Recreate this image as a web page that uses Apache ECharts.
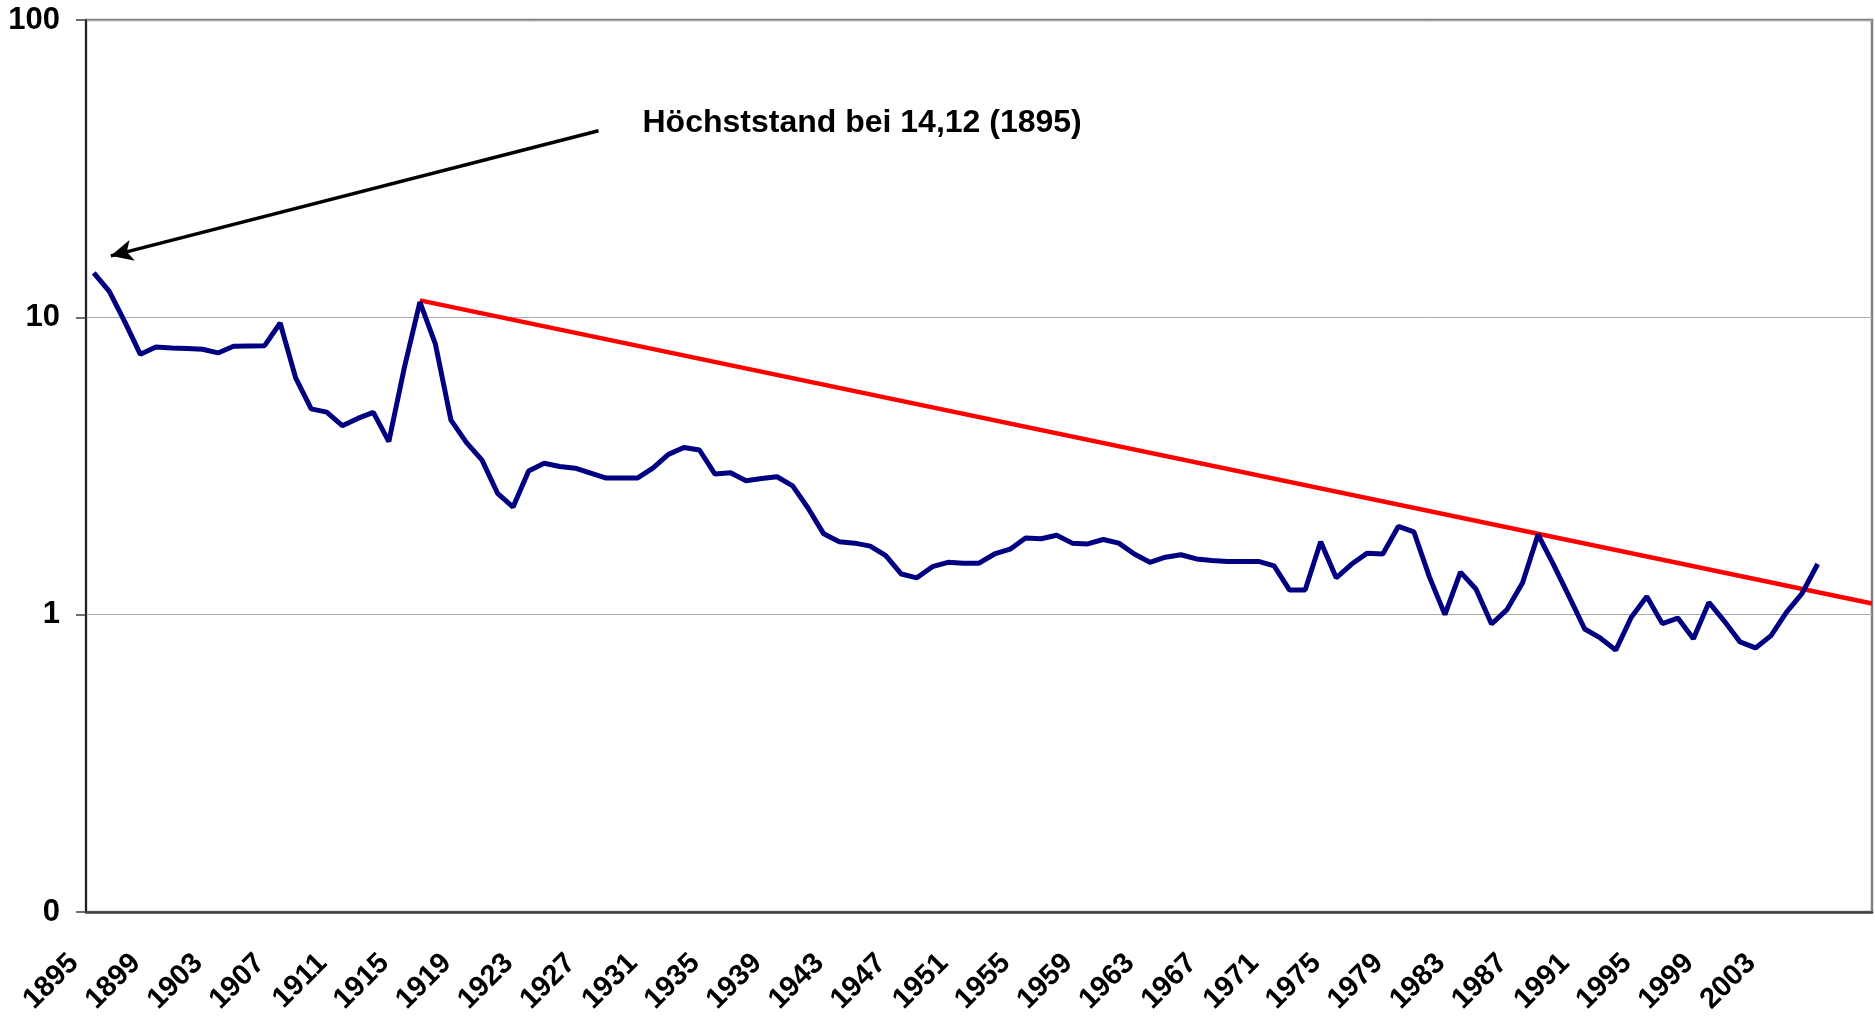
<!DOCTYPE html>
<html lang="de">

<head>
  <meta charset="UTF-8">
  <title>Kursverlauf 1895-2006</title>
  <style type="text/css">
    html, body {
      margin: 0;
      padding: 0;
      background: #fff;
    }
    #chart {
      width: 1875px;
      height: 1018px;
    }
  </style>
</head>

<body>
  <div id="chart"></div>
  <script src="https://cdn.jsdelivr.net/npm/echarts@6/dist/echarts.min.js"></script>
  <script type="text/javascript">

    // Jahre der Kategorieachse (1895 - 2009)
    var years = []
    for (var y = 1895; y <= 2009; y++) years.push(String(y))

    // Jahreswerte 1895 - 2006
    var kurs = [
      14.12, 12.22, 9.65, 7.51, 7.95, 7.89, 7.85, 7.81, 7.59, 7.99,
      8.01, 8.03, 9.57, 6.26, 4.92, 4.80, 4.32, 4.57, 4.79, 3.82,
      6.78, 11.26, 8.12, 4.51, 3.79, 3.31, 2.56, 2.30, 3.04, 3.23,
      3.15, 3.11, 2.99, 2.88, 2.88, 2.88, 3.11, 3.46, 3.65, 3.58,
      2.97, 3.00, 2.82, 2.87, 2.91, 2.71, 2.28, 1.87, 1.76, 1.74,
      1.70, 1.58, 1.37, 1.33, 1.45, 1.50, 1.49, 1.49, 1.60, 1.66,
      1.81, 1.80, 1.85, 1.74, 1.73, 1.79, 1.74, 1.60, 1.50, 1.56,
      1.59, 1.54, 1.52, 1.51, 1.51, 1.51, 1.46, 1.21, 1.21, 1.76,
      1.33, 1.48, 1.61, 1.60, 1.98, 1.90, 1.34, 1.00, 1.39, 1.22,
      0.93, 1.04, 1.28, 1.86, 1.47, 1.15, 0.895, 0.835, 0.76, 0.98,
      1.15, 0.933, 0.974, 0.83, 1.10, 0.95, 0.81, 0.773, 0.85, 1.02,
      1.18, 1.48
    ]

    // rote Trendlinie: Jahr / Wert der Endpunkte
    var trendYears = [1916, 2009.5]
    var trendValues = [11.4, 1.09]

    // Pfeil und Beschriftung
    var arrowFrom = [1927.5, 42.4]
    var arrowTo = [1896.1, 16.1]
    var notePos = [1930.3, 45.1]
    var noteText = 'Höchststand bei 14,12 (1895)'

    var font = '"Liberation Sans", Arial, sans-serif'

    function every4 (index) {
      return index % 4 === 0
    }

    var myChart = echarts.init(document.getElementById('chart'))

    var option = {
      animation: false,
      grid: {
        left: 86,
        right: 3,
        top: 20,
        bottom: 106,
        show: true,
        borderColor: '#808080',
        borderWidth: 2.5
      },
      xAxis: [
        {
          type: 'category',
          data: years,
          boundaryGap: true,
          axisLine: { lineStyle: { color: '#404040', width: 2.5 } },
          axisTick: {
            interval: every4,
            length: 10,
            lineStyle: { color: '#404040', width: 1.5 }
          },
          axisLabel: {
            interval: function (index) {
              return index % 4 === 0 && index <= 108
            },
            rotate: 45,
            margin: 27,
            padding: [0, 28, 0, 0],
            fontSize: 29,
            fontWeight: 'bold',
            fontFamily: font,
            color: '#000'
          },
          splitLine: { show: false }
        },
        {
          type: 'value',
          min: 1894.5,
          max: 2009.5,
          show: false
        }
      ],
      yAxis: {
        type: 'log',
        logBase: 10,
        min: 0.1,
        max: 100,
        axisLine: { show: true, lineStyle: { color: '#000', width: 1.5 } },
        axisTick: { show: true, length: 10, lineStyle: { color: '#404040', width: 1.5 } },
        axisLabel: {
          formatter: function (v) {
            return String(Math.round(v))
          },
          margin: 26,
          fontSize: 31,
          fontWeight: 'bold',
          fontFamily: font,
          color: '#000'
        },
        splitLine: { show: true, lineStyle: { color: '#aaaaaa', width: 1 } }
      },
      series: [
        {
          name: 'Trend',
          type: 'line',
          xAxisIndex: 1,
          data: trendYears.map(function (yr, i) {
            return [yr, trendValues[i]]
          }),
          symbol: 'none',
          lineStyle: { color: '#ff0000', width: 4.5 },
          z: 2,
          markLine: {
            silent: true,
            symbol: ['none', 'arrow'],
            symbolSize: [16, 22],
            lineStyle: { color: '#000', width: 3.5, type: 'solid' },
            label: { show: false },
            data: [[{ coord: arrowFrom }, { coord: arrowTo }]]
          },
          markPoint: {
            silent: true,
            symbol: 'circle',
            symbolSize: 1,
            itemStyle: { color: 'rgba(0,0,0,0)' },
            label: {
              show: true,
              position: 'right',
              distance: 0,
              formatter: noteText,
              fontSize: 32,
              fontWeight: 'bold',
              fontFamily: font,
              color: '#000'
            },
            data: [{ coord: notePos }]
          }
        },
        {
          name: 'Kurs',
          type: 'line',
          xAxisIndex: 0,
          data: kurs,
          symbol: 'none',
          lineStyle: { color: '#000080', width: 5 },
          z: 3
        }
      ]
    }
    myChart.setOption(option)
  </script>
</body>

</html>
